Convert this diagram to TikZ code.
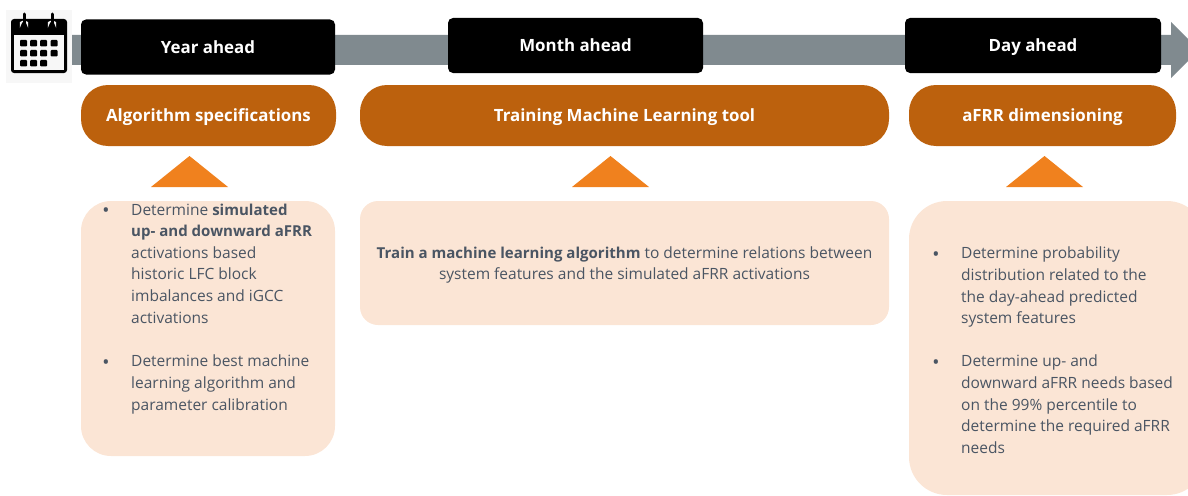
\documentclass[tikz,border=0pt]{standalone}
\usepackage{fontspec}
\setmainfont{Open Sans}[BoldFeatures={Scale=0.97}]
\usepackage{tikz}
\usetikzlibrary{arrows,positioning,shapes}
\definecolor{slate}{HTML}{4A5563}
\definecolor{rust}{HTML}{BC610D}
\definecolor{amber}{HTML}{F0811E}
\definecolor{peach}{HTML}{FBE5D5}
\definecolor{steel}{HTML}{808A8F}
\definecolor{paper}{HTML}{F7F7F7}
\tikzset{
    %Define style for the time boxes
    horizon/.style={
           rectangle,
           rounded corners=5pt,
           fill=black,
           text=white,
           minimum height=55pt,
           text height=12pt,
           text depth=0pt,
           font=\fontsize{17.4}{20}\selectfont\bfseries,
           text centered},
    %Define style for the headers
    phase/.style={
           rectangle,
           rounded corners=27pt,
           fill=rust,
           text=white,
           minimum height=61pt,
           text height=12pt,
           text depth=0pt,
           font=\fontsize{17.4}{20}\selectfont\bfseries,
           text centered},
    %Define style for the text panels
    panel/.style={
           rectangle,
           rounded corners=30pt,
           fill=peach},
    body/.style={
           text=slate,
           inner sep=0pt,
           font=\fontsize{15.5}{21.6}\selectfont},
    bulletdot/.style={
           body,
           text height=12pt,
           anchor=north east},
    pointer/.style={fill=amber},
}
\begin{document}
\begin{tikzpicture}[x=1pt,y=-1pt]
\useasboundingbox (0,0) rectangle (1188,495);
% timeline arrow
\fill[steel] (71,35) -- (1171,35) -- (1171,22) -- (1199,50) -- (1171,78) -- (1171,65) -- (71,65) -- cycle;
% calendar
\fill[paper] (6,10) rectangle (72,83);
\fill[black,rounded corners=3pt] (11,19) rectangle (67,73);
\fill[paper] (13.5,35) rectangle (64,70);
\foreach \x in {20,30,40,50.5} \foreach \y in {40,50}
    \fill[black,rounded corners=1pt] (\x,\y) rectangle +(7,6.5);
\foreach \x in {20,30,40}
    \fill[black,rounded corners=1pt] (\x,60) rectangle +(7,6.5);
\foreach \x in {24,52} {
    \draw[paper,line width=1.4pt] (\x-3.5,22) -- (\x-3.5,24.5) arc[start angle=180,end angle=360,radius=3.5] -- (\x+3.5,22);
    \draw[black,line width=3pt,line cap=round] (\x,14) -- (\x,24);
}
% time boxes
\node[horizon,minimum width=254pt] (year) at (208,47) {Year ahead};
\node[horizon,minimum width=255pt] (month) at (575.5,45.5) {Month ahead};
\node[horizon,minimum width=256pt] (day) at (1033,45.5) {Day ahead};
% headers
\node[phase,minimum width=255pt] (algo) at (208.5,115.5) {Algorithm specifications};
\node[phase,minimum width=529pt] (train) at (624.5,115.5) {Training Machine Learning tool};
\node[phase,minimum width=267pt] (dim) at (1042.5,115.5) {aFRR dimensioning};
% pointers
\foreach \x in {189.5,610.5,1044.5}
    \fill[pointer] (\x-38.5,187) -- (\x,156) -- (\x+38.5,187) -- cycle;
% panels
\node[panel,minimum width=254pt,minimum height=255pt] (algotext) at (208,328.5) {};
\node[panel,minimum width=529pt,minimum height=124pt,rounded corners=18pt] (traintext) at (624.5,263) {};
\node[panel,minimum width=296pt,minimum height=294pt,rounded corners=38pt] (dimtext) at (1057,348) {};
% left panel
\node[body,anchor=north west,align=left] (algoa) at (131,203.5) {Determine \textbf{simulated}\\\textbf{up- and downward aFRR}\\activations based\\historic LFC block\\imbalances and iGCC\\activations};
\node[body,anchor=north west,align=left] (algob) at (131,355) {Determine best machine\\learning algorithm and\\parameter calibration};
\node[bulletdot,left=22pt of algoa.north west,anchor=north east] (bulleta) {\textbf{•}};
\node[bulletdot,left=22pt of algob.north west,anchor=north east] (bulletb) {\textbf{•}};
% middle panel
\node[body,align=center] (traintxt) at (624.5,265) {\textbf{Train a machine learning algorithm} to determine relations between\\system features and the simulated aFRR activations};
% right panel
\node[body,anchor=north west,align=left] (dima) at (961,247) {Determine probability\\distribution related to the\\the day-ahead predicted\\system features};
\node[body,anchor=north west,align=left] (dimb) at (961,355) {Determine up- and\\downward aFRR needs based\\on the 99\% percentile to\\determine the required aFRR\\needs};
\node[bulletdot,left=22pt of dima.north west,anchor=north east] (bulletc) {\textbf{•}};
\node[bulletdot,left=22pt of dimb.north west,anchor=north east] (bulletd) {\textbf{•}};
\end{tikzpicture}
\end{document}
